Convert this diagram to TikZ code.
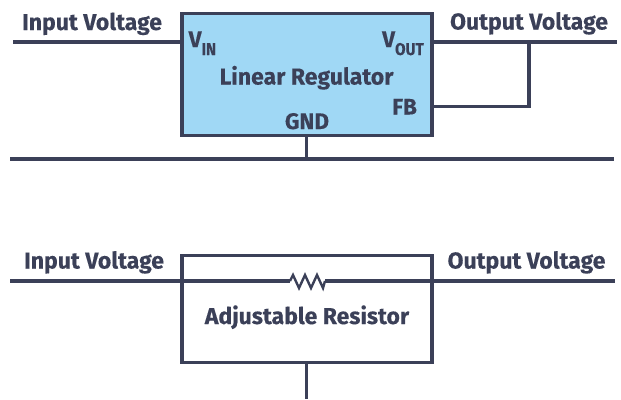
\documentclass[tikz,border=0pt]{standalone}
\usepackage{fontspec}
\usepackage{xcolor}
\setmainfont[BoldFeatures={FakeBold=0.3}]{Fira Sans}
\usetikzlibrary{positioning}
\definecolor{adink}{RGB}{59,64,88}
\definecolor{adblue}{RGB}{160,216,245}
\newcommand{\subtxt}[1]{{\fontsize{17}{18}\selectfont\raisebox{-8pt}{\scalebox{0.9}[1]{#1}}}}
\tikzset{
  block/.style={rectangle, draw=adink, line width=3.2pt, minimum width=250pt,
                inner sep=0pt},
  regblock/.style={block, fill=adblue, minimum height=122pt},
  resblock/.style={block, minimum height=107pt},
  wire/.style={draw=adink, line width=3.2pt},
  caption/.style={text=adink, font=\fontsize{23}{25}\selectfont\bfseries,
                  inner sep=0pt, anchor=base},
  pinname/.style={caption, font=\fontsize{22.5}{25}\selectfont\bfseries}
}
\begin{document}
\begin{tikzpicture}[x=1pt,y=-1pt]
\useasboundingbox (0,0) rectangle (621,399);
% upper circuit
\node[regblock] (reg) at (307,74.5) {};
\coordinate (inA) at (13,42);
\coordinate (inpinA) at (182,42);
\coordinate (outA) at (617,42);
\coordinate (outpinA) at (432,42);
\coordinate (tap) at (529,42);
\coordinate (fbturn) at (529,106.5);
\coordinate (fbpin) at (432,106.5);
\coordinate (gndA) at (306.5,135);
\coordinate (gndjoin) at (306.5,159);
\coordinate (railL) at (10,159);
\coordinate (railR) at (614,159);

\node[caption] (inlabA) at (92,30) {Input Voltage};
\node[caption] (outlabA) at (529,29.5) {Output Voltage};
\node[pinname, anchor=base west] (vin) at (188.5,47) {V\subtxt{IN}};
\node[pinname, anchor=base east] (vout) at (424,47) {V\subtxt{OUT}};
\node[caption] (reglab) at (306.5,84.5) {Linear Regulator};
\node[pinname] (fb) at (404.5,114.5) {FB};
\node[pinname] (gnd) at (307,129) {GND};

\draw[wire] (inA) -- (inpinA);
\draw[wire] (outpinA) -- (outA);
\draw[wire] (tap) -- (fbturn) -- (fbpin);
\draw[wire] (gndA) -- (gndjoin);
\draw[wire] (railL) -- (railR);

% lower circuit
\node[resblock] (res) at (307,309) {};
\coordinate (inB) at (10,281);
\coordinate (outB) at (615,281);
\coordinate (zigL) at (290,281);
\coordinate (zigR) at (325,281);
\coordinate (gndB) at (306.5,362.5);
\coordinate (gndend) at (306.5,399);

\node[caption] (inlabB) at (94,268.5) {Input Voltage};
\node[caption] (outlabB) at (526.5,268.5) {Output Voltage};
\node[caption] (reslab) at (307,324) {Adjustable Resistor};

\draw[wire] (inB) -- (zigL);
\draw[wire, line width=2.4pt] (zigL) -- ++(3,-6) -- ++(6,13) -- ++(6,-13)
  -- ++(6,13) -- ++(6,-13) -- ++(6,13) -- (zigR);
\draw[wire] (zigR) -- (outB);
\draw[wire] (gndB) -- (gndend);
\end{tikzpicture}
\end{document}
